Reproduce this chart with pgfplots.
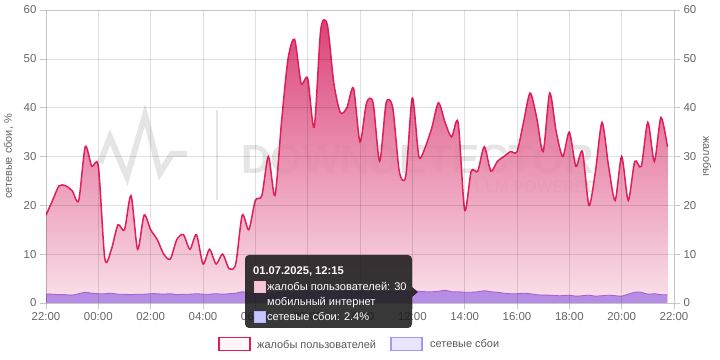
\documentclass[border=0pt]{standalone}
\usepackage{pgfplots}
\pgfplotsset{compat=1.18}
\usepackage{pgfplotstable}
\usepackage{fontspec}
\setmainfont{Liberation Sans}
\definecolor{pinkline}{RGB}{224,30,90}
\definecolor{pinktop}{RGB}{214,45,105}
\definecolor{pinkbot}{RGB}{249,222,232}
\definecolor{purfill}{RGB}{178,138,228}
\definecolor{purline}{RGB}{170,95,212}
\definecolor{ticklab}{RGB}{102,102,102}
\definecolor{tipbg}{RGB}{28,28,28}
\definecolor{legpur}{RGB}{165,150,250}
\definecolor{legpurfill}{RGB}{232,230,255}

% t = hours since 22:00, c = complaints, s = network failures %
\pgfplotstableread{
t c s
0.00 18 1.8
0.25 21 1.8
0.50 24 1.7
0.75 24 1.7
1.00 23 1.6
1.25 21 1.9
1.50 32 2.2
1.75 28 2.0
2.00 28 1.9
2.25 9 1.9
2.50 11 2.0
2.75 16 1.8
3.00 15 1.8
3.25 22 1.7
3.50 11 1.8
3.75 18 1.8
4.00 15 1.9
4.25 13 1.9
4.50 10 1.8
4.75 9 1.9
5.00 13 1.7
5.25 14 1.8
5.50 11 1.8
5.75 14 1.9
6.00 8 1.8
6.25 11 1.8
6.50 8 1.9
6.75 10 1.8
7.00 7 1.9
7.25 8 2.0
7.50 18 2.3
7.75 15 2.1
8.00 21 2.0
8.25 22 2.1
8.50 30 2.0
8.75 22 2.1
9.00 37 2.2
9.25 50 2.3
9.50 54 2.2
9.75 45 2.3
10.00 46 2.3
10.25 36 2.2
10.50 56 2.4
10.75 57 2.3
11.00 45 2.2
11.25 39 2.3
11.50 40 2.4
11.75 44 2.3
12.00 33 2.3
12.25 41 2.4
12.50 41 2.3
12.75 29 2.2
13.00 41 2.3
13.25 40 2.4
13.50 27 2.3
13.75 26 2.4
14.00 42 2.4
14.25 30 2.4
14.50 32 2.3
14.75 36 2.3
15.00 41 2.4
15.25 37 2.6
15.50 34 2.3
15.75 37 2.3
16.00 19 2.2
16.25 27 2.2
16.50 27 2.3
16.75 32 2.5
17.00 27 2.3
17.25 29 2.2
17.50 30 2.0
17.75 31 1.9
18.00 31 1.9
18.25 37 2.0
18.50 43 1.9
18.75 38 1.7
19.00 31 1.6
19.25 43 1.6
19.50 35 1.5
19.75 30 1.5
20.00 35 1.6
20.25 28 1.4
20.50 31 1.5
20.75 20 1.6
21.00 27 1.4
21.25 37 1.5
21.50 28 1.6
21.75 21 1.5
22.00 30 1.4
22.25 21 1.8
22.50 29 2.2
22.75 28 2.2
23.00 37 1.8
23.25 29 1.9
23.50 38 1.7
23.75 32 1.7
}\datatable

\begin{document}
\begin{tikzpicture}
% watermark (behind the series)
\begin{scope}[opacity=0.10, line width=6bp, line join=miter, draw=black]
  \draw (100bp,197bp) -- (110bp,223bp) -- (127bp,183bp) -- (145bp,245bp) -- (160bp,187bp) -- (172bp,206bp) -- (187bp,206bp);
  \draw[line width=2.5bp] (217bp,160bp) -- (217bp,250bp);
  \node[anchor=base west, inner sep=0pt, text=black, font=\bfseries\fontsize{41}{41}\selectfont] at (238bp,186bp) {DOWNDETECTOR};
  \node[anchor=base east, inner sep=0pt, text=black, font=\bfseries\fontsize{16.5}{16}\selectfont] at (601bp,167bp) {LLM POWERED};
\end{scope}

\pgfplotsset{
  base/.style={
    at={(46bp,57bp)}, anchor=south west,
    scale only axis, width=628bp, height=293bp,
    xmin=0, xmax=24, ymin=0, ymax=60,
    ytick={0,10,...,60},
    tick align=outside, major tick length=6bp,
    tick style={draw=black!22, line width=0.6bp},
    /pgf/number format/assume math mode=true,
    tick label style={font=\fontsize{11.5}{13}\selectfont, text=ticklab},
    label style={font=\fontsize{11}{13}\selectfont, text=ticklab},
  }
}
\begin{axis}[base,
  axis on top,
  xtick={0,2,...,24},
  xticklabels={22:00,00:00,02:00,04:00,06:00,08:00,10:00,12:00,14:00,16:00,18:00,20:00,22:00},
  xtick pos=bottom, ytick pos=left,
  grid=major,
  grid style={draw=black, opacity=0.12, line width=0.6bp},
  axis line style={draw=black, opacity=0.12, line width=0.6bp},
  ylabel={сетевые сбои, \%},
  ylabel style={at={(axis description cs:0,0.5)}, anchor=center, yshift=37.5bp},
]
\addplot[draw=none, top color=pinktop, bottom color=pinkbot, fill opacity=0.9, smooth, tension=0.45]
  table[x=t, y=c] {\datatable} \closedcycle;
\addplot[draw=pinkline, line width=1.5bp, smooth, tension=0.45]
  table[x=t, y=c] {\datatable};
\addplot[draw=none, fill=purfill, fill opacity=0.95, smooth, tension=0.45]
  table[x=t, y=s] {\datatable} \closedcycle;
\addplot[draw=purline, line width=0.9bp, smooth, tension=0.45]
  table[x=t, y=s] {\datatable};
\end{axis}
\begin{axis}[base,
  axis x line=none,
  axis y line*=right,
  axis line style={draw=none},
  ylabel={жалобы},
  ylabel style={rotate=180, at={(axis description cs:1,0.5)}, anchor=center, yshift=33bp},
]
\end{axis}

% tooltip
\fill[tipbg, opacity=0.88, rounded corners=4bp] (245bp,32bp) rectangle (412bp,105bp);
\fill[tipbg, opacity=0.88] (412bp,63bp) -- (418bp,68bp) -- (412bp,73bp) -- cycle;
\node[anchor=base west, inner sep=0pt, text=white, font=\bfseries\fontsize{11.2}{13}\selectfont] at (253bp,85bp) {01.07.2025, 12:15};
\draw[draw=pinkline!30, fill=pinkline!25, line width=0.8bp] (254bp,68bp) rectangle (265bp,79bp);
\node[anchor=base west, inner sep=0pt, text=white, font=\fontsize{11.1}{13}\selectfont] at (267bp,69.5bp) {жалобы пользователей: 30};
\node[anchor=base west, inner sep=0pt, text=white, font=\fontsize{11.1}{13}\selectfont] at (267bp,54.5bp) {мобильный интернет};
\draw[draw=blue!30!white, fill=blue!22!white, line width=0.8bp] (254bp,38bp) rectangle (265bp,49bp);
\node[anchor=base west, inner sep=0pt, text=white, font=\fontsize{11.1}{13}\selectfont] at (267bp,39.5bp) {сетевые сбои: 2.4\%};

% legend
\draw[draw=pinkline, line width=1.5bp, fill=pinkline!4] (219bp,9.5bp) rectangle (250bp,22.5bp);
\node[anchor=west, inner sep=0pt, text=black!65, font=\fontsize{11}{13}\selectfont] at (257bp,16bp) {жалобы пользователей};
\draw[draw=legpur, line width=1.5bp, fill=legpurfill] (391bp,9.5bp) rectangle (422bp,22.5bp);
\node[anchor=west, inner sep=0pt, text=black!65, font=\fontsize{11}{13}\selectfont] at (430bp,16bp) {сетевые сбои};

\pgfresetboundingbox
\path[use as bounding box] (0bp,0bp) rectangle (720bp,360bp);
\end{tikzpicture}
\end{document}
